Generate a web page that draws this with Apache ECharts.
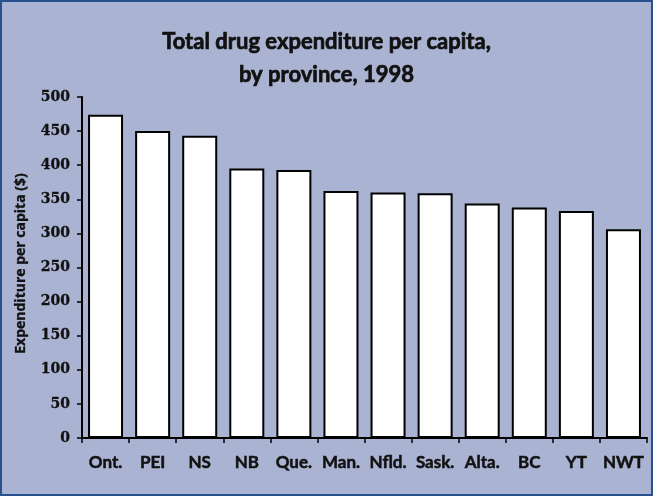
<!DOCTYPE html>
<html><head><meta charset="utf-8">
<script src="https://cdn.jsdelivr.net/npm/echarts@6/dist/echarts.min.js"></script>
<style>
html,body{margin:0;padding:0;background:#aab4d2;}
#frame{position:absolute;left:0;top:0;width:649px;height:492px;border:2px solid #27508c;background:#aab4d2;}
#c{position:absolute;left:-2px;top:-2px;width:653px;height:496px;}
</style></head>
<body>
<div id="frame"><div id="c"></div></div>
<script>
const categories = ["Ont.","PEI","NS","NB","Que.","Man.","Nfld.","Sask.","Alta.","BC","YT","NWT"];
const values = [474,450,443,395,393,362,360,359,344,338,333,306];
const yTicks = [0,50,100,150,200,250,300,350,400,450,500];

const chart = echarts.init(document.getElementById('c'));
chart.setOption({
  backgroundColor: 'transparent',
  animation: false,
  title: {
    text: 'Total drug expenditure per capita,\nby province, 1998',
    left: 'center', top: 20,
    textStyle: {fontFamily: 'Lato', fontWeight: 'bold', fontSize: 22, color: '#111', lineHeight: 33,
      textBorderColor: '#111', textBorderWidth: 0.7}
  },
  grid: {left: 82, right: 6, top: 97, bottom: 58},
  xAxis: {
    type: 'category', data: categories,
    axisLine: {lineStyle: {color: '#000', width: 2}},
    axisTick: {show: true, length: 5, lineStyle: {color: '#000', width: 1.5}},
    axisLabel: {interval: 0, fontFamily: 'Lato', fontWeight: 'bold', fontSize: 17, color: '#111', margin: 16,
      textBorderColor: '#111', textBorderWidth: 0.5}
  },
  yAxis: {
    type: 'value', min: yTicks[0], max: yTicks[yTicks.length-1], interval: 50,
    name: 'Expenditure per capita ($)', nameLocation: 'middle', nameGap: 54, nameRotate: 90,
    nameTextStyle: {fontFamily: 'Open Sans', fontWeight: 'bold', fontSize: 14, color: '#111', padding: [0, 0, 0, 8],
      textBorderColor: '#111', textBorderWidth: 0.3},
    axisLine: {show: true, lineStyle: {color: '#000', width: 2}},
    axisTick: {show: true, length: 5, lineStyle: {color: '#000', width: 1.5}},
    splitLine: {show: false},
    axisLabel: {fontFamily: 'DejaVu Serif', fontWeight: 'bold', fontSize: 14, color: '#111', margin: 12,
      textBorderColor: '#111', textBorderWidth: 0.3}
  },
  series: [{
    type: 'bar', data: values, barWidth: 35,
    itemStyle: {color: '#fff', borderColor: '#000', borderWidth: 2}
  }]
});
</script>
</body></html>
